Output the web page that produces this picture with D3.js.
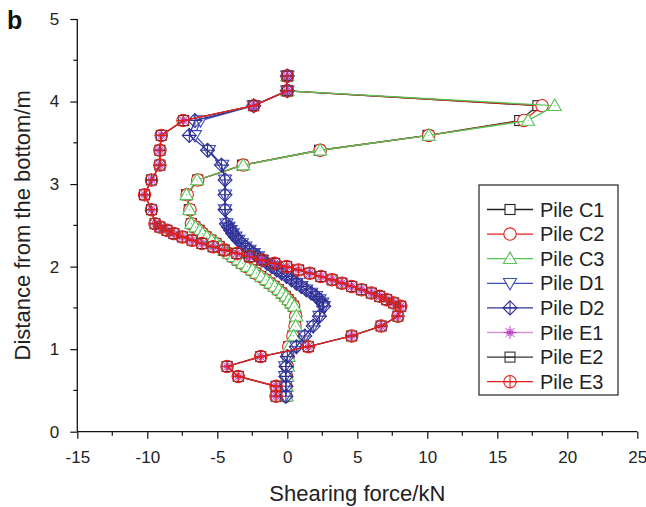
<!DOCTYPE html>
<html><head><meta charset="utf-8">
<script src="https://cdn.jsdelivr.net/npm/d3@7"></script>
<style>body{margin:0;background:#fff}svg{display:block}text{font-family:"Liberation Sans",Arial,sans-serif;fill:#222}</style>
</head><body><svg id="c" width="646" height="507"></svg>
<script>
// ---- data ----
const depthTop = [4.31, 4.13, 3.95, 3.77, 3.59, 3.41, 3.23, 3.05, 2.87, 2.69, 2.52];
const depthMid = [2.48, 2.44, 2.40, 2.36, 2.32, 2.28, 2.24, 2.20, 2.16, 2.12, 2.08, 2.04, 2.00,
                  1.96, 1.92, 1.88, 1.84, 1.80, 1.76, 1.72, 1.68, 1.64, 1.60, 1.56, 1.52];
const depthLow = [1.40, 1.28, 1.16, 1.03, 0.91, 0.79, 0.67, 0.55, 0.43];
const depth = depthTop.concat(depthMid, depthLow);

const pileC1 = [0, 0, 17.9, 16.6, 10.05, 2.3, -3.2, -6.4, -7.2, -7.0, -6.85,
  -6.6, -6.3, -6.1, -5.8, -5.45, -5.1, -4.85, -4.55, -4.2, -3.9, -3.55, -3.25, -2.9,
  -2.55, -2.25, -1.9, -1.55, -1.25, -0.95, -0.65, -0.4, -0.15, 0.05, 0.25, 0.45,
  0.6, 0.55, 0.4, 0.1, 0.05, 0.0, -0.05, -0.1, -0.1];
const pileC2 = [0, 0, 18.2, 16.9, 10.1, 2.35, -3.15, -6.4, -7.15, -6.95, -6.85,
  -6.6, -6.3, -6.05, -5.8, -5.45, -5.1, -4.85, -4.5, -4.2, -3.9, -3.55, -3.25, -2.9,
  -2.55, -2.25, -1.9, -1.55, -1.25, -0.95, -0.65, -0.4, -0.15, 0.05, 0.25, 0.45,
  0.6, 0.55, 0.4, 0.1, 0.05, 0.0, -0.05, -0.1, -0.1];
const pileC3 = [0, 0, 19.1, 17.2, 10.1, 2.35, -3.15, -6.45, -7.2, -7.0, -6.85,
  -6.55, -6.25, -6.05, -5.75, -5.4, -5.05, -4.8, -4.5, -4.15, -3.85, -3.5, -3.2, -2.85,
  -2.5, -2.2, -1.85, -1.5, -1.2, -0.9, -0.6, -0.35, -0.1, 0.1, 0.3, 0.5,
  0.65, 0.6, 0.45, 0.15, 0.1, 0.05, 0.0, -0.05, -0.05];
const pileD1 = [0, 0, -2.4, -6.2, -6.6, -5.6, -4.65, -4.45, -4.45, -4.45, -4.35,
  -4.2, -4.05, -3.9, -3.7, -3.5, -3.25, -3.0, -2.7, -2.4, -2.1, -1.8, -1.45, -1.1,
  -0.75, -0.4, -0.05, 0.3, 0.65, 1.0, 1.35, 1.7, 2.05, 2.3, 2.5, 2.6,
  2.3, 1.85, 1.25, 0.65, 0.0, -0.15, -0.15, -0.15, -0.15];
const pileD2 = [0, 0, -2.4, -6.6, -7.0, -5.7, -4.7, -4.45, -4.45, -4.45, -4.35,
  -4.2, -4.05, -3.9, -3.7, -3.5, -3.25, -3.0, -2.7, -2.4, -2.1, -1.8, -1.45, -1.1,
  -0.75, -0.4, -0.05, 0.3, 0.65, 1.0, 1.35, 1.7, 2.05, 2.3, 2.5, 2.6,
  2.3, 1.85, 1.25, 0.65, 0.0, -0.1, -0.1, -0.1, -0.1];
const pileE1 = [0, 0, -2.4, -7.4, -9.0, -9.1, -9.1, -9.7, -10.2, -9.7, -9.45,
  -9.1, -8.6, -8.1, -7.5, -6.8, -6.1, -5.3, -4.5, -3.6, -2.7, -1.8, -0.9, -0.05,
  0.8, 1.6, 2.4, 3.2, 3.9, 4.6, 5.3, 6.0, 6.6, 7.1, 7.6, 8.1,
  7.9, 6.7, 4.6, 1.5, -1.9, -4.3, -3.5, -0.8, -0.8];
const pileE2 = [0, 0, -2.4, -7.4, -9.0, -9.1, -9.1, -9.7, -10.2, -9.7, -9.45,
  -9.1, -8.6, -8.1, -7.5, -6.8, -6.1, -5.3, -4.5, -3.6, -2.7, -1.8, -0.9, -0.05,
  0.8, 1.6, 2.4, 3.2, 3.9, 4.6, 5.3, 6.0, 6.6, 7.1, 7.6, 8.1,
  7.9, 6.7, 4.6, 1.5, -1.9, -4.3, -3.5, -0.8, -0.8];
const pileE3 = [0, 0, -2.4, -7.45, -9.0, -9.1, -9.1, -9.7, -10.2, -9.7, -9.45,
  -9.1, -8.6, -8.1, -7.5, -6.8, -6.1, -5.3, -4.5, -3.6, -2.7, -1.8, -0.9, -0.05,
  0.8, 1.6, 2.4, 3.2, 3.9, 4.6, 5.3, 6.0, 6.6, 7.1, 7.6, 8.1,
  7.9, 6.7, 4.6, 1.5, -1.9, -4.3, -3.5, -0.8, -0.8];

const seriesNames = ["Pile C1", "Pile C2", "Pile C3", "Pile D1", "Pile D2", "Pile E1", "Pile E2", "Pile E3"];
const xTicks = [-15, -10, -5, 0, 5, 10, 15, 20, 25];
const yTicks = [0, 1, 2, 3, 4, 5];

// ---- styles ----
const styles = [
  {line: "#222", stroke: "#222", marker: "square"},
  {line: "#e8201c", stroke: "#e8201c", marker: "circle"},
  {line: "#55c455", stroke: "#55c455", marker: "triangle"},
  {line: "#3f4fc0", stroke: "#3f4fc0", marker: "down"},
  {line: "#323294", stroke: "#323294", marker: "diamondPlus"},
  {line: "#d495d4", stroke: "#c044c8", marker: "star"},
  {line: "#333", stroke: "#333", marker: "squareLine"},
  {line: "#e8201c", stroke: "#e8201c", marker: "circlePlus"}
];
const seriesX = [pileC1, pileC2, pileC3, pileD1, pileD2, pileE1, pileE2, pileE3];

const svg = d3.select("#c");
const x = d3.scaleLinear().domain([-15, 25]).range([77.3, 637.3]);
const y = d3.scaleLinear().domain([0, 5]).range([431.7, 19]);

const fmt = d => String(d);
// axes
const xAxis = d3.axisBottom(x).tickValues(xTicks).tickSize(7).tickPadding(12).tickFormat(fmt);
const gx = svg.append("g").attr("transform", `translate(0,${y(0)})`).call(xAxis);
const xMinor = d3.range(-12.5, 25, 5);
gx.selectAll(".minor").data(xMinor).enter().append("line")
  .attr("x1", d => x(d)).attr("x2", d => x(d)).attr("y1", 0).attr("y2", 4).attr("stroke", "#111").attr("stroke-width", 1.2);

const yAxis = d3.axisLeft(y).tickValues(yTicks).tickSize(7).tickPadding(11).tickFormat(fmt);
const gy = svg.append("g").attr("transform", `translate(${x(-15)},0)`).call(yAxis);
const yMinor = d3.range(0.5, 5, 1);
gy.selectAll(".minor").data(yMinor).enter().append("line")
  .attr("y1", d => y(d)).attr("y2", d => y(d)).attr("x1", 0).attr("x2", -4).attr("stroke", "#111").attr("stroke-width", 1.2);

[gx, gy].forEach(g => {
  g.selectAll(".tick line").attr("stroke", "#111").attr("stroke-width", 1.2);
  g.selectAll(".tick text").attr("font-size", 17).attr("font-family", "Liberation Sans, Arial, sans-serif").attr("fill", "#222");
});
gx.select(".domain").attr("stroke", "#111").attr("stroke-width", 1.3).attr("d", `M${x(-15)},0H${x(25)}`);
gy.select(".domain").attr("stroke", "#111").attr("stroke-width", 1.3).attr("d", `M0,${y(0)}V${y(5)}`);

svg.append("text").attr("x", x(5)).attr("y", 501).attr("text-anchor", "middle").attr("font-size", 22).text("Shearing force/kN");
svg.append("text").attr("transform", `translate(30,${y(2.5)}) rotate(-90)`).attr("text-anchor", "middle").attr("font-size", 22).text("Distance from the bottom/m");
svg.append("text").attr("x", 7).attr("y", 29).attr("font-size", 25).attr("font-weight", "bold").style("fill", "#111").text("b");

// marker drawing
function drawMarker(g, type, color) {
  const sw = 1.1;
  if (type === "square") {
    g.append("rect").attr("x", -5).attr("y", -5).attr("width", 10).attr("height", 10).attr("fill", "#fff").attr("stroke", color).attr("stroke-width", sw);
  } else if (type === "circle") {
    g.append("circle").attr("r", 6.2).attr("fill", "#fff").attr("stroke", color).attr("stroke-width", sw);
  } else if (type === "triangle") {
    g.append("path").attr("d", d3.symbol(d3.symbolTriangle, 75)()).attr("transform", "translate(0,1)").attr("fill", "#fff").attr("stroke", color).attr("stroke-width", sw);
    g.append("circle").attr("r", 0.6).attr("fill", color);
  } else if (type === "down") {
    g.append("path").attr("d", d3.symbol(d3.symbolTriangle, 75)()).attr("transform", "translate(0,-1) rotate(180)").attr("fill", "#fff").attr("stroke", color).attr("stroke-width", sw);
  } else if (type === "diamondPlus") {
    g.append("path").attr("d", "M0,-7L7,0L0,7L-7,0Z").attr("fill", "none").attr("stroke", color).attr("stroke-width", sw);
    g.append("path").attr("d", "M0,-7V7M-7,0H7").attr("stroke", color).attr("stroke-width", sw);
  } else if (type === "star") {
    let d = "";
    for (let i = 0; i < 8; i++) {
      const a = i * Math.PI / 4;
      d += `M0,0L${(6.5 * Math.cos(a)).toFixed(2)},${(6.5 * Math.sin(a)).toFixed(2)}`;
    }
    for (let i = 0; i < 8; i++) {
      const a = i * Math.PI / 4 + Math.PI / 8;
      d += `M0,0L${(4 * Math.cos(a)).toFixed(2)},${(4 * Math.sin(a)).toFixed(2)}`;
    }
    g.append("path").attr("d", d).attr("stroke", color).attr("stroke-width", 1).attr("fill", "none");
  } else if (type === "squareLine") {
    g.append("rect").attr("x", -5).attr("y", -5).attr("width", 10).attr("height", 10).attr("fill", "none").attr("stroke", color).attr("stroke-width", sw);
    g.append("path").attr("d", "M-5,0H5").attr("stroke", color).attr("stroke-width", sw);
  } else if (type === "circlePlus") {
    g.append("circle").attr("r", 6.2).attr("fill", "none").attr("stroke", color).attr("stroke-width", sw);
    g.append("path").attr("d", "M0,-6.2V6.2M-6.2,0H6.2").attr("stroke", color).attr("stroke-width", sw);
  }
}

const line = d3.line().x(d => x(d[0])).y(d => y(d[1]));
const plot = svg.append("g");
seriesX.forEach((xs, i) => {
  const pts = xs.map((v, j) => [v, depth[j]]);
  const g = plot.append("g");
  g.append("path").attr("d", line(pts)).attr("fill", "none").attr("stroke", styles[i].line).attr("stroke-width", 1.3);
  pts.forEach(p => {
    const m = g.append("g").attr("transform", `translate(${x(p[0])},${y(p[1])})`);
    drawMarker(m, styles[i].marker, styles[i].stroke);
  });
});

// legend
const lg = svg.append("g");
lg.append("rect").attr("x", 479).attr("y", 185).attr("width", 139).attr("height", 210).attr("fill", "#fff").attr("stroke", "#222").attr("stroke-width", 1.2);
seriesNames.forEach((name, i) => {
  const cy = 209.5 + i * 24.6;
  const row = lg.append("g");
  row.append("line").attr("x1", 487).attr("x2", 533).attr("y1", cy).attr("y2", cy).attr("stroke", styles[i].line).attr("stroke-width", 1.3);
  const m = row.append("g").attr("transform", `translate(510,${cy})`);
  drawMarker(m, styles[i].marker, styles[i].stroke);
  row.append("text").attr("x", 540).attr("y", cy + 7).attr("font-size", 20).text(name);
});
</script></body></html>
